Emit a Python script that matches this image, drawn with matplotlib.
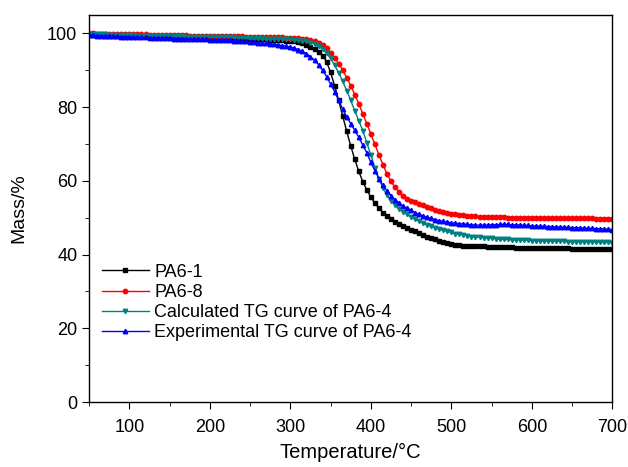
import numpy as np
import matplotlib
matplotlib.use("Agg")
import matplotlib.pyplot as plt
from matplotlib.ticker import MultipleLocator

plt.rcParams["font.family"] = ["Liberation Sans", "DejaVu Sans"]

# ===============================
# DATA (5 degC step)
# ===============================
temp = np.arange(50, 705, 5)

pa6_1 = [
    99.6, 99.6, 99.5, 99.5, 99.4, 99.4, 99.4, 99.3, 99.3, 99.3, 99.3,
    99.2, 99.2, 99.2, 99.2, 99.1, 99.1, 99.1, 99.1, 99.1, 99.0,
    99.0, 99.0, 99.0, 98.9, 98.9, 98.9, 98.9, 98.9, 98.8, 98.8,
    98.8, 98.8, 98.7, 98.7, 98.7, 98.7, 98.6, 98.6, 98.6, 98.5,
    98.5, 98.5, 98.4, 98.4, 98.3, 98.3, 98.2, 98.1, 98.0, 97.9,
    97.8, 97.6, 97.3, 96.9, 96.4, 95.8, 95.0, 94.0, 92.3, 89.4,
    85.8, 81.8, 77.6, 73.4, 69.5, 65.8, 62.6, 59.8, 57.5, 55.6,
    54.0, 52.6, 51.4, 50.4, 49.6, 48.9, 48.3, 47.8, 47.3, 46.8,
    46.3, 45.8, 45.3, 44.9, 44.5, 44.1, 43.7, 43.4, 43.1, 42.8,
    42.6, 42.5, 42.4, 42.3, 42.3, 42.2, 42.2, 42.2, 42.1, 42.1,
    42.1, 42.1, 42.0, 42.0, 42.0, 41.9, 41.9, 41.9, 41.9, 41.8,
    41.8, 41.8, 41.8, 41.8, 41.7, 41.7, 41.7, 41.7, 41.7, 41.6,
    41.6, 41.6, 41.6, 41.6, 41.5, 41.5, 41.5, 41.5, 41.5, 41.5,
]

pa6_8 = [
    100.0, 100.0, 99.9, 99.9, 99.9, 99.9, 99.8, 99.8, 99.8, 99.8, 99.7,
    99.7, 99.7, 99.7, 99.7, 99.6, 99.6, 99.6, 99.6, 99.6, 99.5,
    99.5, 99.5, 99.5, 99.5, 99.4, 99.4, 99.4, 99.4, 99.4, 99.3,
    99.3, 99.3, 99.3, 99.3, 99.2, 99.2, 99.2, 99.2, 99.1, 99.1,
    99.1, 99.1, 99.0, 99.0, 99.0, 99.0, 98.9, 98.9, 98.8, 98.8,
    98.8, 98.7, 98.6, 98.5, 98.3, 98.0, 97.5, 96.8, 95.9, 94.8,
    93.4, 91.8, 90.0, 88.0, 85.8, 83.4, 80.9, 78.2, 75.5, 72.7,
    69.9, 67.1, 64.4, 61.9, 59.9, 58.2, 57.0, 56.0, 55.2, 54.6,
    54.2, 53.8, 53.4, 53.0, 52.6, 52.2, 51.9, 51.6, 51.3, 51.0,
    50.9, 50.8, 50.7, 50.6, 50.5, 50.4, 50.3, 50.3, 50.2, 50.2,
    50.1, 50.1, 50.1, 50.0, 50.0, 50.0, 50.0, 50.0, 50.0, 50.0,
    49.9, 49.9, 49.9, 49.9, 49.9, 49.9, 49.9, 49.9, 49.8, 49.8,
    49.8, 49.8, 49.8, 49.8, 49.8, 49.7, 49.7, 49.7, 49.7, 49.7,
]

pa6_4_calc = [
    99.8, 99.8, 99.7, 99.7, 99.7, 99.6, 99.6, 99.6, 99.5, 99.5, 99.5,
    99.5, 99.4, 99.4, 99.4, 99.4, 99.3, 99.3, 99.3, 99.3, 99.2,
    99.2, 99.2, 99.2, 99.1, 99.1, 99.1, 99.1, 99.0, 99.0, 99.0,
    99.0, 99.0, 98.9, 98.9, 98.9, 98.9, 98.8, 98.8, 98.8, 98.7,
    98.7, 98.7, 98.7, 98.6, 98.6, 98.6, 98.5, 98.5, 98.4, 98.4,
    98.3, 98.2, 98.0, 97.8, 97.5, 97.1, 96.5, 95.7, 94.6, 93.2,
    91.4, 89.3, 87.0, 84.5, 81.8, 79.0, 76.3, 73.6, 70.3, 67.0,
    63.6, 60.6, 58.1, 56.1, 54.6, 53.4, 52.4, 51.6, 50.9, 50.2,
    49.6, 49.1, 48.5, 48.1, 47.7, 47.3, 46.9, 46.6, 46.3, 46.0,
    45.7, 45.5, 45.3, 45.1, 44.9, 44.8, 44.7, 44.6, 44.5, 44.4,
    44.3, 44.2, 44.1, 44.1, 44.0, 44.0, 43.9, 43.9, 43.9, 43.8,
    43.8, 43.8, 43.7, 43.7, 43.7, 43.6, 43.6, 43.6, 43.5, 43.5,
    43.5, 43.5, 43.4, 43.4, 43.4, 43.4, 43.3, 43.3, 43.3, 43.2,
]

pa6_4_exp = [
    99.6, 99.5, 99.4, 99.4, 99.3, 99.3, 99.2, 99.2, 99.1, 99.1, 99.0,
    99.0, 98.9, 98.9, 98.9, 98.8, 98.8, 98.8, 98.7, 98.7, 98.7,
    98.6, 98.6, 98.6, 98.5, 98.5, 98.5, 98.4, 98.4, 98.4, 98.3,
    98.3, 98.2, 98.2, 98.1, 98.1, 98.0, 98.0, 97.9, 97.8, 97.7,
    97.6, 97.5, 97.4, 97.3, 97.2, 97.0, 96.9, 96.7, 96.5, 96.3,
    96.0, 95.6, 95.1, 94.5, 93.7, 92.7, 91.5, 90.0, 88.3, 86.2,
    84.2, 81.8, 79.5, 77.4, 75.5, 73.7, 71.8, 69.7, 67.6, 65.0,
    62.8, 60.6, 58.8, 57.3, 56.0, 54.9, 54.0, 53.2, 52.6, 52.0,
    51.4, 50.9, 50.5, 50.1, 49.8, 49.5, 49.2, 49.0, 48.8, 48.6,
    48.5, 48.4, 48.3, 48.2, 48.1, 48.0, 48.0, 48.0, 48.0, 48.1,
    48.1, 48.2, 48.2, 48.2, 48.1, 48.1, 48.0, 48.0, 47.9, 47.8,
    47.8, 47.7, 47.7, 47.6, 47.6, 47.5, 47.5, 47.4, 47.4, 47.3,
    47.3, 47.2, 47.2, 47.1, 47.1, 47.0, 47.0, 46.9, 46.9, 46.8,
]

labels = ["PA6-1", "PA6-8", "Calculated TG curve of PA6-4",
          "Experimental TG curve of PA6-4"]
colors = ["black", "#ff0000", "#008080", "#0000ff"]
markers = ["s", "o", "v", "^"]

# ===============================
# PLOT
# ===============================
fig = plt.figure(figsize=(6.28, 4.67), dpi=100)
ax = fig.add_axes([0.142, 0.139, 0.833, 0.829])

series = [pa6_1, pa6_8, pa6_4_calc, pa6_4_exp]
for y, lab, c, m in zip(series, labels, colors, markers):
    ax.plot(temp, y, color=c, marker=m, markersize=3.2, linewidth=1, label=lab)

ax.set_xlim(50, 700)
ax.set_ylim(0, 105)
ax.xaxis.set_major_locator(MultipleLocator(100))
ax.xaxis.set_minor_locator(MultipleLocator(50))
ax.yaxis.set_major_locator(MultipleLocator(20))
ax.yaxis.set_minor_locator(MultipleLocator(10))
ax.tick_params(which="both", direction="out", labelsize=13)
ax.tick_params(axis="x", which="major", pad=7)
ax.tick_params(which="major", length=5)
ax.tick_params(which="minor", length=3)
for s in ax.spines.values():
    s.set_linewidth(1.0)

ax.set_xlabel("Temperature/\u00b0C", fontsize=14.5, labelpad=5)
ax.set_ylabel("Mass/%", fontsize=14, labelpad=14)

ax.legend(loc="upper left", bbox_to_anchor=(0.0, 0.39), frameon=False,
          fontsize=13, handlelength=2.6, handletextpad=0.3,
          labelspacing=0.18, borderaxespad=0.3)

fig.savefig("out.png", dpi=100)
